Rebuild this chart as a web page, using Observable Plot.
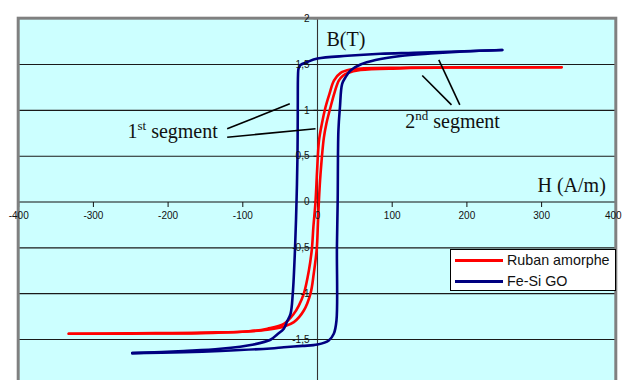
<!DOCTYPE html>
<html>
<head>
<meta charset="utf-8">
<script src="https://cdn.jsdelivr.net/npm/d3@7"></script>
<script src="https://cdn.jsdelivr.net/npm/@observablehq/plot@0.6"></script>
<style>
  html, body { margin: 0; padding: 0; background: #ffffff; }
  #wrap { position: relative; width: 622px; height: 380px; overflow: hidden; }
  #legend { position: absolute; left: 450px; top: 249px; width: 166px; height: 42px; box-sizing: border-box;
            border: 1.5px solid #000; background: #fff; font-family: "Liberation Sans", Arial, sans-serif;
            font-size: 14.3px; color: #111; }
  .item { position: absolute; left: 4px; height: 20px; display: flex; align-items: center; }
  .item .sw { width: 48px; height: 3px; margin-right: 4px; }
</style>
</head>
<body>
<div id="wrap"></div>
<script>
// ---- data (H in A/m, B in T) ----
const seriesNames = ["Ruban amorphe", "Fe-Si GO"];
const seriesColors = ["#ff0000", "#000080"];

const rubanDown = [[326.7,1.470],[250,1.470],[151,1.468],[111,1.464],[62,1.458],[44,1.445],[31,1.409],[22,1.325],[16,1.18],[10.7,1.034],[6,0.86],[2,0.67],[-0.5,0.35],[-2.7,0],[-5.5,-0.27],[-7.5,-0.51],[-11.6,-0.75],[-18.3,-1.0],[-25,-1.13],[-31.7,-1.22],[-45,-1.33],[-67,-1.383],[-90,-1.41],[-150,-1.425],[-250,-1.432],[-333,-1.438]];
const rubanUp = [[-333,-1.438],[-250,-1.436],[-157,-1.431],[-100,-1.415],[-67,-1.394],[-45,-1.358],[-31.7,-1.311],[-18.3,-1.184],[-9.4,-1.0],[-5,-0.78],[-1,-0.51],[0.5,-0.25],[1.8,0],[4,0.3],[8.5,0.7],[12,0.86],[17.4,1.034],[23,1.2],[28.5,1.325],[34,1.378],[39.8,1.405],[57.6,1.44],[111,1.458],[178,1.467],[326.7,1.470]];
const feSiDown = [[247.3,1.658],[195.9,1.645],[128.9,1.628],[84.3,1.617],[39.8,1.595],[0,1.565],[-13.8,1.527],[-22.8,1.494],[-25.4,1.456],[-26.1,1.38],[-26.4,1.03],[-26.8,0.507],[-28.1,0],[-30.1,-0.51],[-33.1,-1.0],[-36.1,-1.22],[-40.6,-1.30],[-45.1,-1.383],[-54,-1.445],[-62.9,-1.503],[-85.3,-1.554],[-129.9,-1.601],[-179,-1.625],[-248,-1.649]];
const feSiUp = [[-248,-1.649],[-179,-1.638],[-129.9,-1.625],[-62.9,-1.598],[-45.1,-1.585],[-20,-1.57],[0,-1.555],[15.1,-1.511],[21.8,-1.438],[25.4,-1.293],[26,-0.5],[27,0],[28,0.78],[30,1.03],[33,1.29],[37.5,1.361],[44.2,1.435],[57.6,1.50],[77.7,1.549],[111,1.593],[151,1.62],[195.5,1.642],[247.3,1.658]];

const xDomain = [-400, 400];
const yDomain = [-2, 2];
const xTicks = [-400, -300, -200, -100, 0, 100, 200, 300, 400];
const yTicks = [2, 1.5, 1, 0.5, 0, -0.5, -1, -1.5];
const gridY = [1.5, 1, 0.5, -0.5, -1, -1.5];

const annotations = [
  {H: -254.4, B: 0.700, main: "1", sup: "st", rest: " segment"},
  {H: 117.5, B: 0.805, main: "2", sup: "nd", rest: " segment"},
  {H: 12.0, B: 1.707, main: "B(T)", sup: "", rest: ""},
  {H: 294.5, B: 0.104, main: "H (A/m)", sup: "", rest: ""}
];
const leaders = [
  [-120.9, 0.799, -37.1, 1.071],
  [-120.9, 0.707, -2.7, 0.799],
  [140.2, 1.380, 179.4, 1.060],
  [162.4, 1.551, 190.5, 1.060]
];

// ---- build table ----
const branches = [
  {series: 0, pts: rubanDown}, {series: 0, pts: rubanUp},
  {series: 1, pts: feSiDown}, {series: 1, pts: feSiUp}
];
const rows = [];
branches.forEach((b, i) => b.pts.forEach(([H, B]) => rows.push({H, B, branch: i, series: b.series})));
const fmt = d => String(d).replace(".", ",");

const tickDown = {draw(ctx) { ctx.moveTo(0, 0); ctx.lineTo(0, 5); }};
const tickLeft = {draw(ctx) { ctx.moveTo(0, 0); ctx.lineTo(-4, 0); }};
const bg = [{x1: xDomain[0], x2: xDomain[1], y1: yDomain[0], y2: yDomain[1]}];
const lastX = xTicks[xTicks.length - 1];
const sans = "Liberation Sans, Arial, sans-serif";

const chart = Plot.plot({
  width: 622, height: 380,
  marginLeft: 18.2, marginRight: 6.2, marginTop: 18.2, marginBottom: 0,
  x: {domain: xDomain, range: [18.2, 615.8], axis: null},
  y: {domain: yDomain, range: [384.8, 18.2], axis: null},
  style: {background: "#ffffff", overflow: "visible"},
  marks: [
    Plot.rect(bg, {x1: "x1", x2: "x2", y1: "y1", y2: "y2", fill: "#ccffff"}),
    Plot.ruleY(gridY, {y: d => d, x1: xDomain[0], x2: xDomain[1], stroke: "#1a1a1a", strokeWidth: 1.1}),
    Plot.ruleY([0], {x1: xDomain[0], x2: xDomain[1], stroke: "#111", strokeWidth: 1.1}),
    Plot.ruleX([0], {y1: yDomain[0], y2: yDomain[1], stroke: "#333", strokeWidth: 1.1}),
    Plot.dot(xTicks, {x: d => d, y: 0, symbol: tickDown, stroke: "#111", fill: "none", strokeWidth: 1}),
    Plot.dot(yTicks, {x: 0, y: d => d, symbol: tickLeft, stroke: "#111", fill: "none", strokeWidth: 1}),
    Plot.rect(bg, {x1: "x1", x2: "x2", y1: "y1", y2: "y2", fill: "none", stroke: "#808080", strokeWidth: 3}),
    Plot.line(rows.filter(d => d.series === 0), {x: "H", y: "B", z: "branch", stroke: seriesColors[0], strokeWidth: 2.6, curve: "catmull-rom"}),
    Plot.line(rows.filter(d => d.series === 1), {x: "H", y: "B", z: "branch", stroke: seriesColors[1], strokeWidth: 2.6, curve: "catmull-rom"}),
    Plot.link(leaders, {x1: d => d[0], y1: d => d[1], x2: d => d[2], y2: d => d[3], stroke: "#000", strokeWidth: 1.6}),
    Plot.text(xTicks.filter(d => d !== lastX), {x: d => d, y: 0, dy: 10, lineAnchor: "top", text: fmt, fontSize: 10, fill: "#111", fontFamily: sans}),
    Plot.text([lastX], {x: d => d, y: 0, dy: 10, dx: -3, lineAnchor: "top", text: fmt, fontSize: 10, fill: "#111", fontFamily: sans}),
    Plot.text(yTicks, {x: 0, y: d => d, dx: -8, textAnchor: "end", text: fmt, fontSize: 10, fill: "#111", fontFamily: sans}),
    Plot.text(annotations, {x: "H", y: "B", text: d => d.main + d.sup + d.rest, textAnchor: "start", lineAnchor: "bottom", fontSize: 20, fill: "#111", fontFamily: "Liberation Serif, Times New Roman, serif"})
  ]
});

// superscripts
d3.select(chart).selectAll("text").each(function() {
  const t = this.textContent;
  const a = annotations.find(d => d.sup && (d.main + d.sup + d.rest) === t);
  if (!a) return;
  const el = d3.select(this);
  el.text(null);
  el.append("tspan").text(a.main);
  el.append("tspan").attr("font-size", 13).attr("dy", -8).text(a.sup);
  el.append("tspan").attr("dy", 8).text(a.rest);
});

const wrap = document.getElementById("wrap");
wrap.appendChild(chart);

// legend
const legend = document.createElement("div");
legend.id = "legend";
seriesNames.forEach((name, i) => {
  const it = document.createElement("div");
  it.className = "item";
  it.style.top = (i === 0 ? 0 : 21) + "px";
  const sw = document.createElement("span");
  sw.className = "sw";
  sw.style.background = seriesColors[i];
  const tx = document.createElement("span");
  tx.textContent = name;
  it.appendChild(sw); it.appendChild(tx);
  legend.appendChild(it);
});
wrap.appendChild(legend);
</script>
</body>
</html>
